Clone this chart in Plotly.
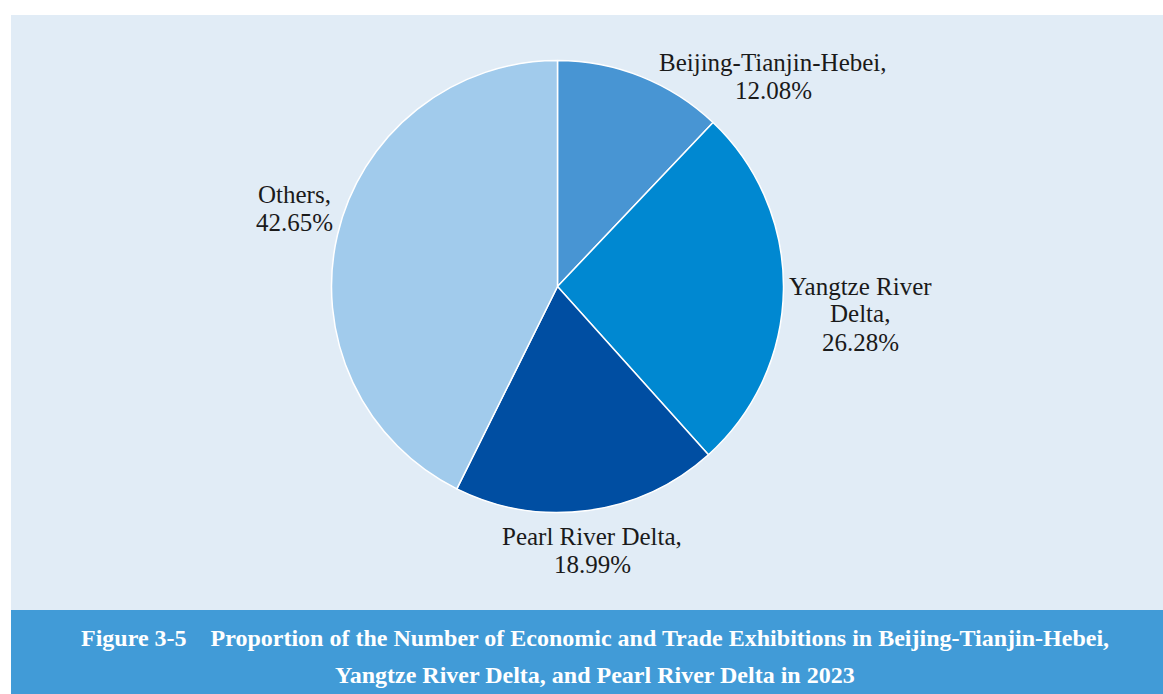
import plotly.graph_objects as go

# Share of economic and trade exhibitions by region, 2023 (%)
regions = ["Beijing-Tianjin-Hebei", "Yangtze River Delta", "Pearl River Delta", "Others"]
# how each region name is broken over lines in its slice label
label_lines = [["Beijing-Tianjin-Hebei,"], ["Yangtze River", "Delta,"], ["Pearl River Delta,"], ["Others,"]]
shares = [12.08, 26.28, 18.99, 42.65]
slice_colors = ["#4895d3", "#0088d1", "#004ea2", "#a1cbec"]

title_line1 = ("Figure 3-5\u00a0\u00a0\u00a0\u00a0Proportion of the Number of Economic and Trade "
               "Exhibitions in Beijing-Tianjin-Hebei,")
title_line2 = "Yangtze River Delta, and Pearl River Delta in 2023"

W, H = 1163, 694
PANEL_BG = "#e1ecf6"
BANNER = "#419bd7"
SERIF = "Liberation Serif, Times New Roman, serif"

# pie geometry in pixels
cx, cy, r = 557.5, 286.5, 226

fig = go.Figure(
    go.Pie(
        labels=regions,
        values=shares,
        sort=False,
        direction="clockwise",
        rotation=0,
        marker=dict(colors=slice_colors, line=dict(color="white", width=1.5)),
        textinfo="none",
        hoverinfo="label+percent",
        showlegend=False,
        domain=dict(x=[(cx - r) / W, (cx + r) / W], y=[(H - cy - r) / H, (H - cy + r) / H]),
    )
)

# label placement: x centre and y of the first line (pixels), fixed line pitch
label_pos = [(773, 62), (860, 286), (592, 536), (294, 194)]
LINE_PITCH = 28
annotations = []
for lines, val, (px, py) in zip(label_lines, shares, label_pos):
    for i, line in enumerate(lines + [f"{val:.2f}%"]):
        annotations.append(
            dict(
                text=line,
                x=px / W, y=1 - (py + i * LINE_PITCH) / H, xref="paper", yref="paper",
                xanchor="center", yanchor="middle", showarrow=False,
                font=dict(family=SERIF, size=25, color="#1a1a1a"),
            )
        )

for line, py in ((title_line1, 638), (title_line2, 675)):
    annotations.append(
        dict(
            text=f"<b>{line}</b>",
            x=594.5 / W, y=1 - py / H, xref="paper", yref="paper",
            xanchor="center", yanchor="middle", showarrow=False,
            font=dict(family=SERIF, size=24, color="white"),
        )
    )

shapes = [
    # white frame on top and left
    dict(type="rect", xref="paper", yref="paper", x0=0, x1=1, y0=1 - 15 / H, y1=1,
         fillcolor="white", line=dict(width=0), layer="below"),
    dict(type="rect", xref="paper", yref="paper", x0=0, x1=11 / W, y0=0, y1=1,
         fillcolor="white", line=dict(width=0), layer="below"),
    # caption banner
    dict(type="rect", xref="paper", yref="paper", x0=11 / W, x1=1, y0=0, y1=1 - 610 / H,
         fillcolor=BANNER, line=dict(width=0), layer="below"),
]

fig.update_layout(
    width=W, height=H,
    margin=dict(l=0, r=0, t=0, b=0),
    paper_bgcolor=PANEL_BG,
    plot_bgcolor=PANEL_BG,
    annotations=annotations,
    shapes=shapes,
)

fig.write_html("out.html")
